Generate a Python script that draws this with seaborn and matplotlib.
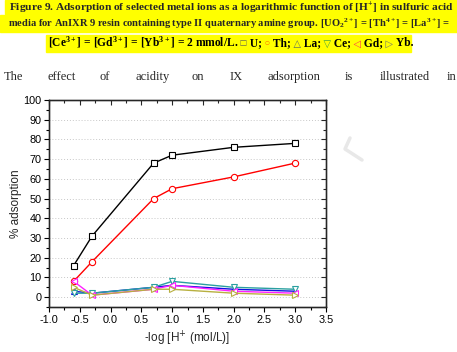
import numpy as np
import pandas as pd
import seaborn as sns
import matplotlib.pyplot as plt
from matplotlib.lines import Line2D
from matplotlib.patches import Rectangle
from matplotlib.ticker import MultipleLocator, FuncFormatter

# data
x_log_h = [-0.6, -0.3, 0.7, 1.0, 2.0, 3.0]
u_ads = [16, 31, 68, 72, 76, 78]
th_ads = [8, 18, 50, 55, 61, 68]
la_ads = [3, 2, 5, 6, 4, 3]
ce_ads = [2, 2, 5, 8, 5, 4]
gd_ads = [8, 1, 4, 6, 3, 2]
yb_ads = [5, 1, 4, 4, 2, 1]

series = [("U", u_ads, "black", "s"),
          ("Th", th_ads, "red", "o"),
          ("La", la_ads, "#1010e0", "^"),
          ("Ce", ce_ads, "#2aa0a0", "v"),
          ("Gd", gd_ads, "#ff20ff", "<"),
          ("Yb", yb_ads, "#b8b040", ">")]

sns.set_style("white")
plt.rcParams['axes.unicode_minus'] = False
plt.rcParams['mathtext.fontset'] = 'custom'
plt.rcParams['mathtext.rm'] = 'Liberation Serif:bold'
plt.rcParams['mathtext.it'] = 'Liberation Serif:bold'
plt.rcParams['mathtext.default'] = 'rm'

W, H = 457, 352
fig = plt.figure(figsize=(W / 100, H / 100), dpi=100)
renderer = fig.canvas.get_renderer()

def fx(px):
    return px / W

def fy(py):
    return 1 - py / H

# caption highlight
for x0, x1, y0, y1 in [(5, 456, 0, 14), (0, 457, 15, 32), (46, 411, 35, 52)]:
    fig.add_artist(Rectangle((fx(x0), fy(y1)), fx(x1) - fx(x0), fy(y0) - fy(y1),
                             transform=fig.transFigure, color="#ffff00", zorder=0))

cap = dict(family=["Liberation Serif", "DejaVu Sans"], fontweight="bold",
           ha="center", va="center")
fig.text(fx(231), fy(8), "Figure 9. Adsorption of selected metal ions as a logarithmic function of [H$^{+}$] in sulfuric acid",
         fontsize=8.2, **cap)
fig.text(fx(229), fy(24), "media for AnIXR 9 resin containing type II quaternary amine group. [UO$_{2}$$^{2+}$] = [Th$^{4+}$] = [La$^{3+}$] =",
         fontsize=7.6, **cap)

# third caption line built from pieces (coloured symbols), placed on one baseline
pieces = [("[Ce$^{3+}$] = [Gd$^{3+}$] = [Yb$^{3+}$] = 2 mmol/L.", "black"),
          ("\u00a0\u25a1", "#555555"), ("\u00a0U;", "black"),
          ("\u00a0\u25cb", "#ff8000"), ("\u00a0Th;", "black"),
          ("\u00a0\u25b3", "#607060"), ("\u00a0La;", "black"),
          ("\u00a0\u25bd", "#40a040"), ("\u00a0Ce;", "black"),
          ("\u00a0\u25c1", "#ff3050"), ("\u00a0Gd;", "black"),
          ("\u00a0\u25b7", "#707070"), ("\u00a0Yb.", "black")]
cur_x = 48
for txt, col in pieces:
    kw = dict(family=["Liberation Serif", "DejaVu Sans"], fontweight="bold", fontsize=8.3)
    if txt[-1] in "\u25a1\u25cb\u25b3\u25bd\u25c1\u25b7":
        kw["fontsize"] = 7
        kw["fontweight"] = "normal"
    t = fig.text(fx(cur_x), fy(46.5), txt, color=col, va="baseline", ha="left", **kw)
    cur_x += t.get_window_extent(renderer).width

# body text, justified word by word
body_words = ["The", "effect", "of", "acidity", "on", "IX", "adsorption", "is", "illustrated", "in"]
body_x = [4, 48, 100, 135, 192, 230, 268, 345, 380, 447]
for word, px in zip(body_words, body_x):
    fig.text(fx(px), fy(77), word, family="Liberation Serif", fontsize=9, va="center", ha="left")

# watermark stroke
fig.add_artist(Line2D([fx(350), fx(345), fx(362)], [fy(138), fy(149), fy(160)],
                      transform=fig.transFigure, color="#e8e8e8", lw=2.5, zorder=0))

ax = fig.add_axes([fx(49), fy(307), fx(326) - fx(49), fy(100) - fy(307)])
for name, vals, col, mk in series:
    df = pd.DataFrame({"x": x_log_h, "y": vals})
    sns.lineplot(data=df, x="x", y="y", ax=ax, color=col, marker=mk, markersize=4.5,
                 markerfacecolor="white", markeredgecolor=col, markeredgewidth=0.8,
                 linewidth=1.0, label=name, legend=False)

ax.set_xlim(-1.0, 3.5)
ax.set_ylim(-5, 100)
ax.xaxis.set_major_locator(MultipleLocator(0.5))
ax.xaxis.set_minor_locator(MultipleLocator(0.25))
ax.yaxis.set_major_locator(MultipleLocator(10))
ax.yaxis.set_minor_locator(MultipleLocator(5))
ax.xaxis.set_major_formatter(FuncFormatter(lambda v, p: f"{v:.1f}"))
ax.yaxis.set_major_formatter(FuncFormatter(lambda v, p: f"{v:.0f}"))
ax.yaxis.grid(True, which="major", linestyle=(0, (1, 2)), color="#c8c8c8", linewidth=0.7)
ax.set_axisbelow(True)
for sp in ax.spines.values():
    sp.set_color("black")
    sp.set_linewidth(1.0)
ax.tick_params(axis="both", which="both", direction="out", bottom=True, left=True,
               labelsize=7.8, pad=2, width=0.8, colors="black")
ax.tick_params(which="major", length=3.5)
ax.tick_params(which="minor", length=2)
for lab in ax.get_xticklabels() + ax.get_yticklabels():
    lab.set_family("Liberation Sans")

ax2 = ax.twinx()
ax2.set_ylim(ax.get_ylim())
ax2.yaxis.set_major_locator(MultipleLocator(10))
ax2.yaxis.set_minor_locator(MultipleLocator(5))
ax2.tick_params(axis="y", which="both", direction="in", labelright=False, right=True, width=0.8)
ax2.tick_params(which="major", length=3.5)
ax2.tick_params(which="minor", length=2)
ax3 = ax.twiny()
ax3.set_xlim(ax.get_xlim())
ax3.xaxis.set_major_locator(MultipleLocator(0.5))
ax3.xaxis.set_minor_locator(MultipleLocator(0.25))
ax3.tick_params(axis="x", which="both", direction="in", labeltop=False, top=True, width=0.8)
ax3.tick_params(which="major", length=3.5)
ax3.tick_params(which="minor", length=2)

ax.set_xlabel("-log [H$^{+}$ (mol/L)]", family="Liberation Sans", fontsize=8.5, labelpad=4,
              math_fontfamily="dejavusans")
ax.set_ylabel("% adsorption", family="Liberation Sans", fontsize=8.5, labelpad=1)

fig.savefig("out.png", dpi=100)
